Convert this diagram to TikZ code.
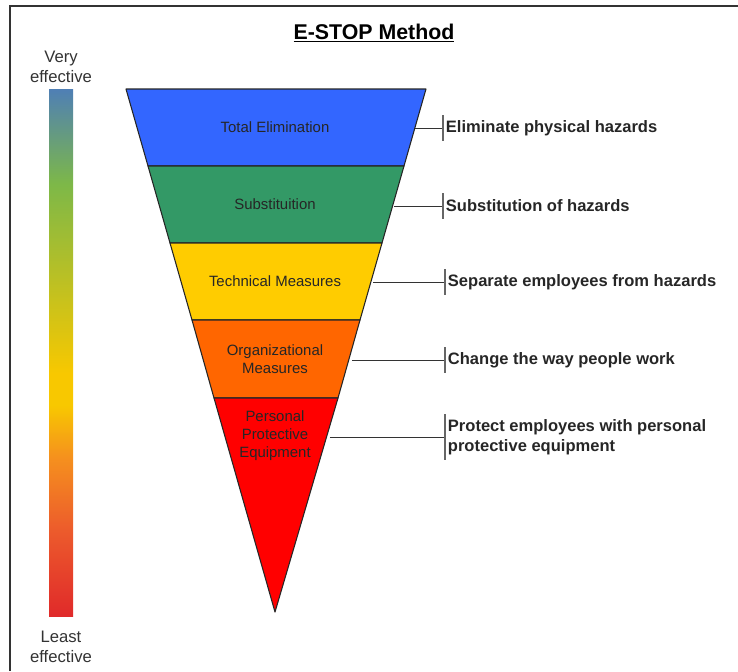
\documentclass[tikz,border=0pt]{standalone}
\usepackage{fontspec}
\setmainfont{Liberation Sans}
\usepackage{xcolor}
\usetikzlibrary{positioning,calc}

\definecolor{elimblue}{HTML}{3366FF}
\definecolor{substgreen}{HTML}{339966}
\definecolor{techyellow}{HTML}{FFCC00}
\definecolor{orgorange}{HTML}{FF6600}
\definecolor{ppered}{HTML}{FF0000}
\definecolor{barblue}{HTML}{4F7FB5}
\definecolor{bargreen}{HTML}{7DB848}
\definecolor{baryellow}{HTML}{F8C800}
\definecolor{barorange}{HTML}{F5901E}
\definecolor{barredor}{HTML}{EC5A2C}
\definecolor{barred}{HTML}{E02A2A}
\pgfdeclareverticalshading{effbar}{100bp}{color(0bp)=(barred); color(25bp)=(barred);
  color(33bp)=(barredor); color(40bp)=(barorange); color(45bp)=(baryellow);
  color(48bp)=(baryellow); color(66bp)=(bargreen); color(75bp)=(barblue); color(100bp)=(barblue)}

\begin{document}
\begin{tikzpicture}[x=0.75pt,y=-0.75pt,
  band/.style={draw=black!85,line width=0.8pt,line join=round},
  bandtxt/.style={align=center,font=\fontsize{11.2}{13.5}\selectfont,text=black!85},
  hint/.style={anchor=west,align=left,inner sep=1pt,font=\fontsize{12.4}{15}\selectfont\bfseries,text=black!85},
  lead/.style={draw=black!80,line width=0.7pt},
  tick/.style={draw=black!60,line width=0.9pt},
  effl/.style={align=center,font=\fontsize{12.5}{15}\selectfont,text=black!80}]
\useasboundingbox (0,0) rectangle (738,671);
% frame
\draw[black!80,line width=1.3pt] (10,671) -- (10,6) -- (738,6);
% title
\node (title) at (374,33) {\fontsize{16}{19}\selectfont\bfseries\underline{E-STOP Method}};

% effectiveness bar
\shade[shading=effbar] (49,89) rectangle (73,616);
\node[effl] (very) at (61,67) {Very\\effective};
\node[effl] (least) at (61,647) {Least\\effective};

% inverted pyramid
\coordinate (tl) at (126,89);  \coordinate (tr) at (426,89);
\coordinate (l1) at (148,166); \coordinate (r1) at (404,166);
\coordinate (l2) at (170,243); \coordinate (r2) at (382,243);
\coordinate (l3) at (192,320); \coordinate (r3) at (360,320);
\coordinate (l4) at (214,398); \coordinate (r4) at (338,398);
\coordinate (tip) at (275,612);
\draw[band,fill=elimblue] (tl) -- (tr) -- (r1) -- (l1) -- cycle;
\draw[band,fill=substgreen] (l1) -- (r1) -- (r2) -- (l2) -- cycle;
\draw[band,fill=techyellow] (l2) -- (r2) -- (r3) -- (l3) -- cycle;
\draw[band,fill=orgorange] (l3) -- (r3) -- (r4) -- (l4) -- cycle;
\draw[band,fill=ppered] (l4) -- (r4) -- (tip) -- cycle;

\node[bandtxt] (elim) at (275,127) {Total Elimination};
\node[bandtxt] (subst) at (275,204) {Substituition};
\node[bandtxt] (tech) at (275,281) {Technical Measures};
\node[bandtxt] (org) at (275,359) {Organizational\\Measures};
\node[bandtxt] (ppe) at (275,436) {Personal\\Protective\\Equipment};

% leaders and descriptions
\coordinate (e1) at (415,128); \coordinate (t1) at (443,128);
\coordinate (e2) at (394,206); \coordinate (t2) at (443,206);
\coordinate (e3) at (373,282); \coordinate (t3) at (445,282);
\coordinate (e4) at (352,360); \coordinate (t4) at (445,360);
\coordinate (e5) at (330,437); \coordinate (t5) at (445,437);
\draw[lead] (e1) -- (t1); \draw[tick] (t1) +(0,-13) -- +(0,13);
\draw[lead] (e2) -- (t2); \draw[tick] (t2) +(0,-13) -- +(0,13);
\draw[lead] (e3) -- (t3); \draw[tick] (t3) +(0,-13) -- +(0,13);
\draw[lead] (e4) -- (t4); \draw[tick] (t4) +(0,-13) -- +(0,13);
\draw[lead] (e5) -- (t5); \draw[tick] (t5) +(0,-23) -- +(0,23);
\node[hint,right=1pt of t1] (d1) {Eliminate physical hazards};
\node[hint,right=1pt of t2] (d2) {Substitution of hazards};
\node[hint,right=1pt of t3] (d3) {Separate employees from hazards};
\node[hint,right=1pt of t4] (d4) {Change the way people work};
\node[hint,right=1pt of t5] (d5) {Protect employees with personal\\protective equipment};
\end{tikzpicture}
\end{document}
